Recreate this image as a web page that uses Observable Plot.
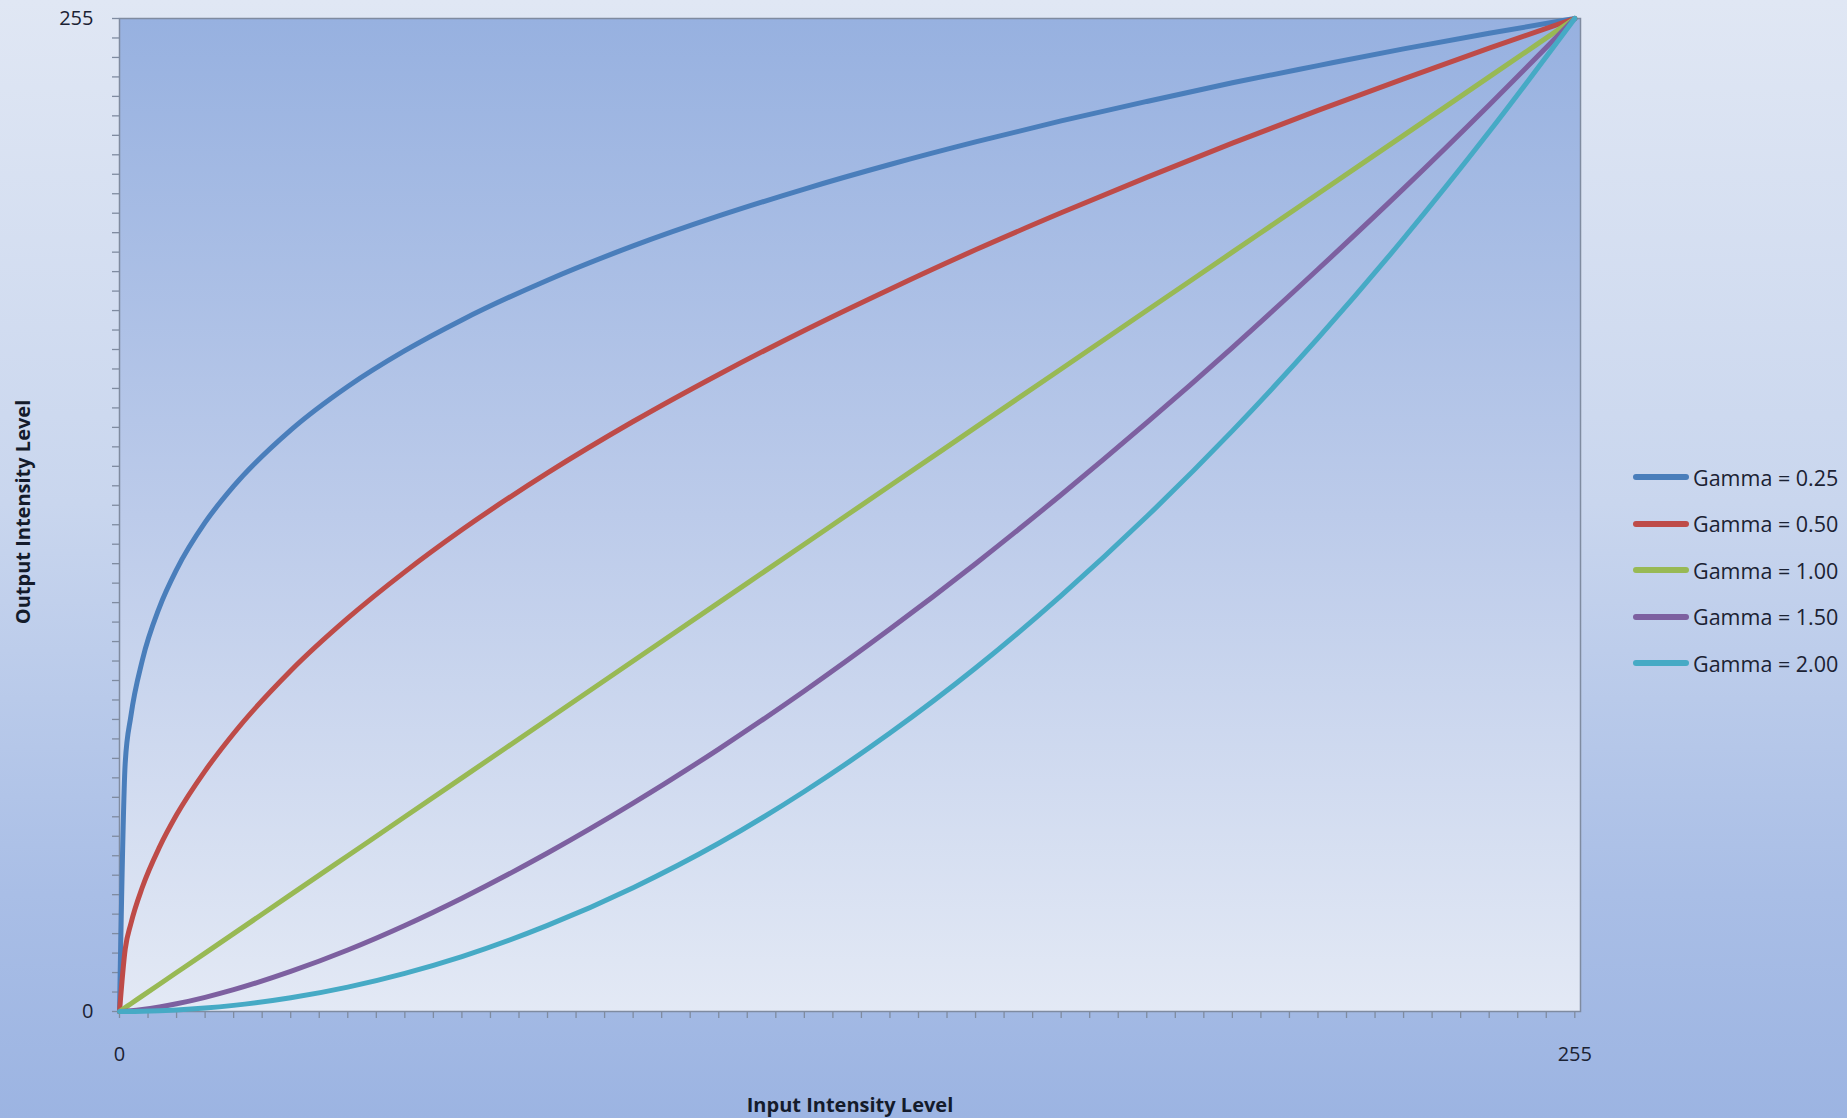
<!DOCTYPE html>
<html>
<head>
<meta charset="utf-8">
<script src="https://cdn.jsdelivr.net/npm/d3@7"></script>
<script src="https://cdn.jsdelivr.net/npm/@observablehq/plot@0.6"></script>
<style>
  html, body { margin: 0; padding: 0; }
  body {
    width: 1847px; height: 1118px; overflow: hidden;
    background: linear-gradient(to bottom, #e0e7f4 0%, #c9d6ee 45%, #a9bee6 80%, #9cb4e2 100%);
    font-family: "Open Sans", sans-serif;
    position: relative;
  }
  #chart { position: absolute; left: 0; top: 0; }
  .title { position: absolute; font-weight: bold; font-size: 20px; color: #141b2b; white-space: nowrap; }
  #ytitle { left: 22px; top: 512px; transform: translate(-50%, -50%) rotate(-90deg); }
  #xtitle { left: 850px; top: 1104px; transform: translate(-50%, -50%); }
  #legend { position: absolute; left: 1633px; top: 454px; }
  .row { display: flex; align-items: center; height: 46.5px; }
  .sw { width: 56px; height: 6px; border-radius: 3px; margin-right: 4px; }
  .lab { font-size: 21.5px; color: #1b2233; white-space: nowrap; }
</style>
</head>
<body>
<div id="chart"></div>
<div class="title" id="ytitle">Output Intensity Level</div>
<div class="title" id="xtitle">Input Intensity Level</div>
<div id="legend"></div>
<script>
// Input levels (x) and read-off output levels (y) per curve
const inputLevels = [0, 1, 2, 4, 7, 10, 15, 20, 30, 40, 50, 60, 75, 90, 105, 120, 135, 150, 165, 180, 195, 210, 225, 240, 255];
const gamma025 = [0, 63.8, 75.9, 90.2, 103.8, 113.5, 125.6, 134.9, 149.3, 160.5, 169.7, 177.6, 187.8, 196.6, 204.3, 211.2, 217.5, 223.3, 228.7, 233.7, 238.5, 242.9, 247.2, 251.2, 255];
const gamma050 = [0, 16.0, 22.6, 31.9, 42.2, 50.5, 61.8, 71.4, 87.5, 101.0, 112.9, 123.7, 138.3, 151.5, 163.6, 174.9, 185.5, 195.6, 205.1, 214.2, 223.0, 231.4, 239.5, 247.4, 255];
const gamma100 = [0, 1, 2, 4, 7, 10, 15, 20, 30, 40, 50, 60, 75, 90, 105, 120, 135, 150, 165, 180, 195, 210, 225, 240, 255];
const gamma150 = [0, 0.06, 0.18, 0.5, 1.16, 1.98, 3.64, 5.6, 10.3, 15.8, 22.1, 29.1, 40.7, 53.5, 67.4, 82.3, 98.2, 115.0, 132.7, 151.2, 170.5, 190.6, 211.3, 232.8, 255];
const gamma200 = [0, 0.004, 0.016, 0.063, 0.19, 0.39, 0.88, 1.57, 3.53, 6.27, 9.8, 14.1, 22.1, 31.8, 43.2, 56.5, 71.5, 88.2, 106.8, 127.1, 149.1, 172.9, 198.5, 225.9, 255];
const seriesNames = ["Gamma = 0.25", "Gamma = 0.50", "Gamma = 1.00", "Gamma = 1.50", "Gamma = 2.00"];
const seriesValues = [gamma025, gamma050, gamma100, gamma150, gamma200];
const axisTicks = d3.range(0, 256, 5);
const axisLabels = [0, 255];

const colors = ["#4a7ebb", "#be4b48", "#98b954", "#7d60a0", "#46aac5"];

const rows = [];
seriesNames.forEach((name, i) => {
  inputLevels.forEach((x, j) => rows.push({series: name, x, y: seriesValues[i][j]}));
});

const chart = Plot.plot({
  width: 1847,
  height: 1118,
  marginLeft: 119,
  marginTop: 18,
  marginRight: 267,
  marginBottom: 107,
  style: {background: "transparent", fontFamily: "Open Sans, sans-serif"},
  x: {domain: [0, 256]},
  y: {domain: [0, 255]},
  color: {domain: seriesNames, range: colors},
  marks: [
    Plot.frame({fill: "url(#plotBg)", stroke: "#7f8ba0", strokeWidth: 1.5}),
    Plot.axisX({ticks: axisTicks, tickSize: 7, tickFormat: () => "", stroke: "#7f8ba0", strokeWidth: 1.3, label: null}),
    Plot.axisY({ticks: axisTicks, tickSize: 7, tickFormat: () => "", stroke: "#7f8ba0", strokeWidth: 1.3, label: null}),
    Plot.axisX({ticks: axisLabels, tickSize: 0, tickPadding: 35, fontSize: 20, fill: "#1b2233", label: null}),
    Plot.axisY({ticks: axisLabels, tickSize: 0, tickPadding: 26, fontSize: 20, fill: "#1b2233", label: null}),
    Plot.line(rows, {x: "x", y: "y", z: "series", stroke: "series", strokeWidth: 5, curve: "monotone-x", strokeLinecap: "round", strokeLinejoin: "round"})
  ]
});

// gradient for the plotting area
const ns = "http://www.w3.org/2000/svg";
const defs = document.createElementNS(ns, "defs");
const grad = document.createElementNS(ns, "linearGradient");
grad.setAttribute("id", "plotBg");
grad.setAttribute("x1", "0"); grad.setAttribute("y1", "0");
grad.setAttribute("x2", "0"); grad.setAttribute("y2", "1");
[["0%", "#97b1e0"], ["50%", "#bccbea"], ["100%", "#e3e9f5"]].forEach(([o, c]) => {
  const s = document.createElementNS(ns, "stop");
  s.setAttribute("offset", o); s.setAttribute("stop-color", c);
  grad.appendChild(s);
});
defs.appendChild(grad);
chart.insertBefore(defs, chart.firstChild);
document.getElementById("chart").appendChild(chart);

const legend = d3.select("#legend");
seriesNames.forEach((name, i) => {
  const r = legend.append("div").attr("class", "row");
  r.append("div").attr("class", "sw").style("background", colors[i]);
  r.append("div").attr("class", "lab").text(name);
});
</script>
</body>
</html>
